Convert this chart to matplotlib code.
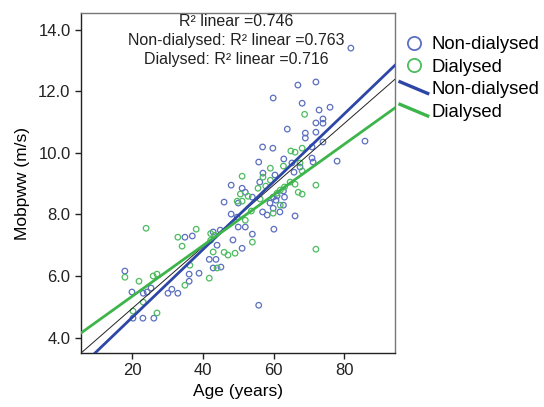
import matplotlib
matplotlib.use("Agg")
import matplotlib.pyplot as plt
import numpy as np
from matplotlib.lines import Line2D
from matplotlib.legend_handler import HandlerBase

plt.rcParams['font.family'] = ['Liberation Sans', 'DejaVu Sans']

# ---- data ----
nd_age = [81.9, 66.9, 72.0, 59.9, 68.1, 72.9, 76.0, 74.0, 72.0, 74.0,
          63.9, 69.0, 72.0, 69.0, 74.0, 85.9, 56.9, 59.8, 70.9, 62.9,
          65.2, 70.9, 71.2, 78.0, 55.8, 67.5, 65.8, 60.4, 57.0, 56.1,
          48.0, 51.1, 52.0, 54.0, 59.9, 62.8, 61.0, 60.7, 63.1, 50.0,
          46.0, 59.0, 56.9, 61.8, 59.9, 62.8, 66.1, 48.0, 49.7, 58.2,
          50.0, 52.0, 54.0, 60.1, 48.5, 37.0, 34.9, 42.9, 44.9, 44.0,
          41.8, 43.7, 42.9, 45.1, 38.9, 36.1, 36.1, 17.9, 19.9, 23.1,
          24.2, 25.3, 30.1, 31.2, 32.9, 20.2, 23.0, 26.1, 55.8, 51.1]
nd_pwv = [13.40, 12.20, 12.30, 11.78, 11.61, 11.39, 11.48, 11.10, 10.97, 10.96,
          10.77, 10.64, 10.67, 10.48, 10.35, 10.38, 10.19, 10.15, 10.19, 9.80,
          9.67, 9.83, 9.70, 9.73, 9.70, 9.54, 9.37, 9.28, 9.34, 9.05,
          8.95, 8.85, 8.72, 8.56, 8.56, 8.76, 8.60, 8.46, 8.56, 8.37,
          8.40, 8.37, 8.08, 8.08, 8.20, 8.30, 7.95, 8.01, 7.91, 7.98,
          7.59, 7.59, 7.36, 7.52, 7.17, 7.30, 7.26, 7.43, 7.49, 7.00,
          6.54, 6.54, 6.26, 6.29, 6.09, 6.06, 5.83, 6.16, 5.48, 5.44,
          5.48, 5.61, 5.44, 5.57, 5.44, 4.63, 4.63, 4.63, 5.05, 6.90]

d_age = [68.8, 64.9, 66.1, 68.1, 67.5, 68.1, 59.1, 62.8, 51.1, 57.0,
         59.1, 64.7, 66.1, 72.0, 63.1, 67.0, 68.1, 61.9, 61.0, 55.6,
         57.8, 56.2, 61.9, 59.9, 52.8, 52.0, 53.7, 50.6, 54.0, 72.0,
         49.7, 51.1, 38.1, 42.2, 43.3, 42.2, 42.9, 46.0, 47.1, 49.1,
         23.9, 32.9, 34.1, 44.0, 41.8, 34.9, 36.3, 17.9, 21.9, 25.9,
         27.0, 20.2, 27.0, 23.1]
d_pwv = [11.25, 10.06, 10.02, 10.15, 9.67, 9.41, 9.50, 9.57, 9.24, 9.21,
         9.11, 9.05, 8.98, 8.95, 8.89, 8.72, 8.66, 8.79, 8.69, 8.85,
         8.92, 8.50, 8.30, 8.04, 8.59, 7.81, 8.11, 8.66, 7.10, 6.87,
         8.43, 8.43, 7.52, 7.38, 7.32, 7.16, 6.78, 6.77, 6.68, 6.74,
         7.55, 7.26, 6.97, 6.26, 5.93, 5.70, 6.35, 5.96, 5.83, 6.00,
         6.06, 4.86, 4.80, 5.15]

# fit lines (intercept, slope)
fit_all = (2.95, 0.100)
fit_nd = (2.46, 0.110)
fit_d = (3.70, 0.0822)

r2_all, r2_nd, r2_d = 0.746, 0.763, 0.716
labels = ["Non-dialysed", "Dialysed"]

c_nd_pt = "#5b6fc0"
c_d_pt = "#4dbb5f"
c_nd_ln = "#2e47a6"
c_d_ln = "#3db54a"

xlim = (5.47, 94.4)
ylim = (3.50, 14.54)

fig = plt.figure(figsize=(5.44, 4.07), dpi=100)
ax = fig.add_axes([81/544, 1-353/407, (395-81)/544, (353-13)/407])

ax.scatter(nd_age, nd_pwv, s=16, facecolors='none', edgecolors=c_nd_pt, linewidths=0.9, zorder=3)
ax.scatter(d_age, d_pwv, s=16, facecolors='none', edgecolors=c_d_pt, linewidths=0.9, zorder=3)

xx = np.array(xlim)
ax.plot(xx, fit_all[0] + fit_all[1]*xx, color='#222222', lw=0.7, zorder=4)
ax.plot(xx, fit_nd[0] + fit_nd[1]*xx, color=c_nd_ln, lw=2.0, zorder=4)
ax.plot(xx, fit_d[0] + fit_d[1]*xx, color=c_d_ln, lw=2.0, zorder=4)

ax.set_xlim(*xlim)
ax.set_ylim(*ylim)
ax.set_xticks([20, 40, 60, 80])
ax.set_yticks([4, 6, 8, 10, 12, 14])
ax.set_yticklabels([f"{v:.1f}" for v in [4, 6, 8, 10, 12, 14]])
ax.tick_params(direction='out', length=4, width=1, labelsize=12, colors='#222222')
for side in ['left', 'bottom']:
    ax.spines[side].set_color('#222222')
    ax.spines[side].set_linewidth(1.0)
for side in ['top', 'right']:
    ax.spines[side].set_color('#777777')
    ax.spines[side].set_linewidth(1.0)

ax.set_xlabel("Age (years)", fontsize=12.5, labelpad=4)
ax.set_ylabel("Mobpww (m/s)", fontsize=12.5, labelpad=6)

txt = (f"R\u00b2 linear ={r2_all:.3f}\n"
       f"{labels[0]}: R\u00b2 linear ={r2_nd:.3f}\n"
       f"{labels[1]}: R\u00b2 linear ={r2_d:.3f}")
ax.text(0.495, 0.997, txt, transform=ax.transAxes, ha='center', va='top',
        fontsize=11.5, linespacing=1.35, color='#222222')


class SlopeHandler(HandlerBase):
    def create_artists(self, legend, orig_handle, xdescent, ydescent, width, height, fontsize, trans):
        l = Line2D([-xdescent, -xdescent + width], [height*0.95 - ydescent, 0.05*height - ydescent],
                   color=orig_handle.get_color(), lw=orig_handle.get_linewidth(), transform=trans)
        return [l]


h1 = Line2D([], [], marker='o', ls='none', markerfacecolor='none', markeredgecolor=c_nd_pt, markersize=9.5, markeredgewidth=1.3)
h2 = Line2D([], [], marker='o', ls='none', markerfacecolor='none', markeredgecolor=c_d_pt, markersize=9.5, markeredgewidth=1.3)
h3 = Line2D([], [], color=c_nd_ln, lw=2.4)
h4 = Line2D([], [], color=c_d_ln, lw=2.4)
leg = fig.legend([h1, h2, h3, h4], [labels[0], labels[1], labels[0], labels[1]],
                 loc='upper left', bbox_to_anchor=(400/544, 1-36/407), frameon=False,
                 fontsize=13.3, handlelength=1.5, handletextpad=0.2, labelspacing=0.3,
                 borderaxespad=0, borderpad=0,
                 handler_map={h3: SlopeHandler(), h4: SlopeHandler()})

fig.savefig("out.png", dpi=100)
